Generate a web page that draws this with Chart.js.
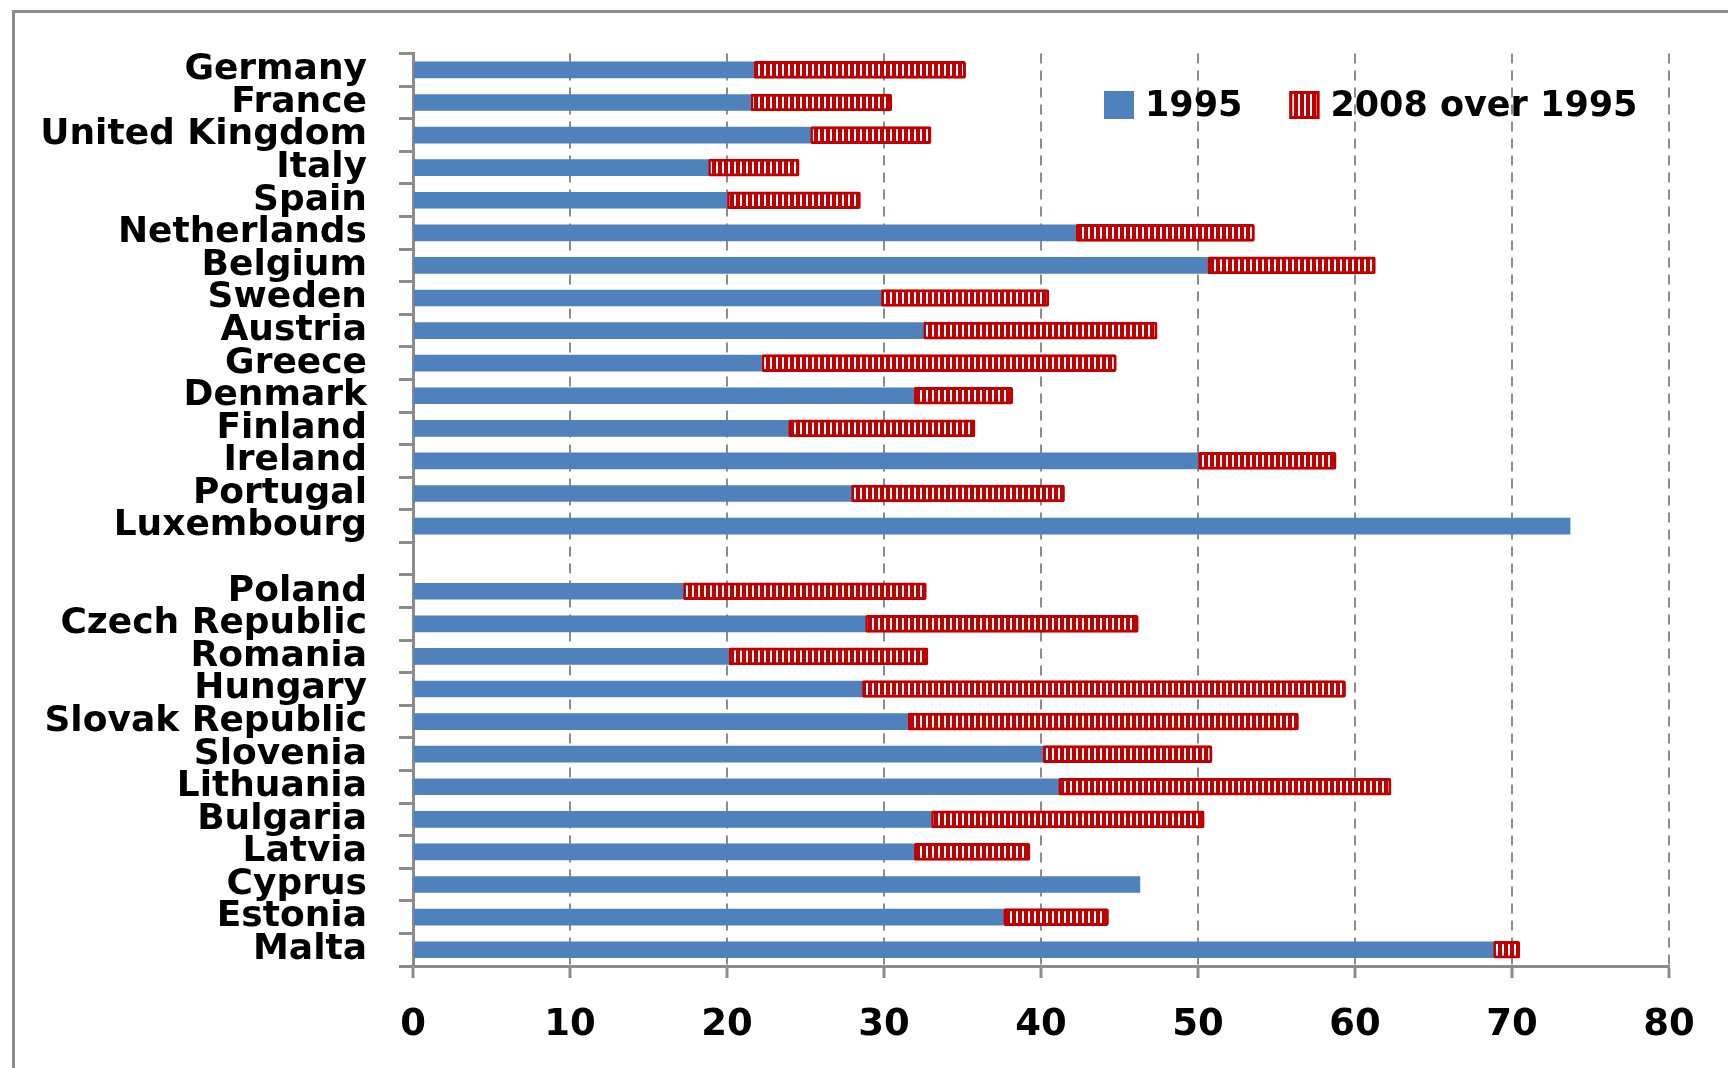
<!DOCTYPE html>
<html>
<head>
<meta charset="utf-8">
<script src="https://cdn.jsdelivr.net/npm/chart.js@4.4.1/dist/chart.umd.min.js"></script>
<style>
    body { margin: 0; background: #fff; overflow: hidden; }
    #frame {
        position: absolute; left: 12px; top: 10px; width: 2000px; height: 2000px;
        border-left: 3px solid #8c8c8c; border-top: 3px solid #8c8c8c;
    }
    #productChart { position: absolute; left: 0; top: 0; }
</style>
</head>
<body>
<div id="frame"></div>
<canvas id="productChart" width="1728" height="1068"></canvas>
<script>
        const countries = ['Germany', 'France', 'United Kingdom', 'Italy', 'Spain', 'Netherlands',
            'Belgium', 'Sweden', 'Austria', 'Greece', 'Denmark', 'Finland', 'Ireland', 'Portugal',
            'Luxembourg', '', 'Poland', 'Czech Republic', 'Romania', 'Hungary', 'Slovak Republic',
            'Slovenia', 'Lithuania', 'Bulgaria', 'Latvia', 'Cyprus', 'Estonia', 'Malta'];
        const share1995 = [21.7, 21.5, 25.3, 18.8, 20.0, 42.2, 50.6, 29.8, 32.5, 22.2, 31.9, 23.9, 50.0, 27.9,
            73.7, null, 17.2, 28.8, 20.1, 28.6, 31.5, 40.1, 41.1, 33.0, 31.9, 46.3, 37.6, 68.8];
        const increase2008 = [13.5, 9.0, 7.7, 5.8, 8.5, 11.4, 10.7, 10.7, 14.9, 22.6, 6.3, 11.9, 8.8, 13.6,
            null, null, 15.5, 17.4, 12.7, 30.8, 24.9, 10.8, 21.2, 17.4, 7.4, null, 6.7, 1.7];
        const seriesNames = ['1995', '2008 over 1995'];
        const xTicks = [0, 10, 20, 30, 40, 50, 60, 70, 80];

        const ctx = document.getElementById('productChart').getContext('2d');
        const gridGrey = '#8c8c8c';
        const labelFont = { family: 'DejaVu Sans', weight: 'bold', size: 36 };

        // vertical red/white stripes for the second series
        const stripeCanvas = document.createElement('canvas');
        stripeCanvas.width = 6;
        stripeCanvas.height = 6;
        const sctx = stripeCanvas.getContext('2d');
        sctx.fillStyle = '#C00000';
        sctx.fillRect(0, 0, 6, 6);
        sctx.fillStyle = '#ffffff';
        sctx.fillRect(2, 0, 2, 6);
        const stripes = ctx.createPattern(stripeCanvas, 'repeat');

        // legend sits inside the plot, top right
        const insideLegend = {
            id: 'insideLegend',
            afterDraw(chart) {
                const c = chart.ctx;
                let x = chart.chartArea.left + 691;
                const y = 91;
                c.save();
                c.font = 'bold 35px "DejaVu Sans"';
                c.textBaseline = 'middle';
                chart.data.datasets.forEach(ds => {
                    c.fillStyle = ds.backgroundColor;
                    c.fillRect(x, y, 30, 28);
                    if (ds.borderWidth) {
                        c.strokeStyle = ds.borderColor;
                        c.lineWidth = 3;
                        c.strokeRect(x + 1.5, y + 1.5, 27, 25);
                    }
                    c.fillStyle = '#000';
                    c.fillText(ds.label, x + 41, y + 16);
                    x += 41 + c.measureText(ds.label).width + 47;
                });
                c.restore();
            }
        };

        const chart = new Chart(ctx, {
            type: 'bar',
            data: {
                labels: countries,
                datasets: [{
                    label: seriesNames[0],
                    data: share1995,
                    backgroundColor: '#4F81BD',
                    borderWidth: 0,
                    barThickness: 16
                }, {
                    label: seriesNames[1],
                    data: increase2008,
                    backgroundColor: stripes,
                    borderColor: '#C00000',
                    borderWidth: 3,
                    borderSkipped: false,
                    borderRadius: 2,
                    barThickness: 17
                }]
            },
            options: {
                indexAxis: 'y',
                responsive: false,
                devicePixelRatio: 1,
                animation: false,
                layout: { padding: { top: 52, right: 59, bottom: 0, left: 0 } },
                plugins: {
                    legend: { display: false },
                    tooltip: { enabled: false }
                },
                scales: {
                    x: {
                        stacked: true,
                        min: 0,
                        max: 80,
                        afterFit: scale => { scale.height = 102; },
                        afterBuildTicks: scale => { scale.ticks = xTicks.map(v => ({ value: v })); },
                        ticks: {
                            color: 'black',
                            font: { family: 'DejaVu Sans', weight: 'bold', size: 37 },
                            padding: 25
                        },
                        grid: {
                            color: c => c.index === 0 ? 'rgba(0,0,0,0)' : gridGrey,
                            lineWidth: 2,
                            tickColor: gridGrey,
                            tickLength: 12,
                            tickWidth: 3,
                            tickBorderDash: []
                        },
                        border: { display: true, color: gridGrey, width: 3, dash: [10, 7] }
                    },
                    y: {
                        stacked: true,
                        offset: true,
                        afterFit: scale => { scale.width = 413; },
                        ticks: {
                            color: 'black',
                            font: labelFont,
                            padding: 32,
                            autoSkip: false
                        },
                        grid: {
                            offset: true,
                            drawOnChartArea: false,
                            color: gridGrey,
                            lineWidth: 3,
                            tickLength: 14
                        },
                        border: { display: true, color: gridGrey, width: 3 }
                    }
                }
            },
            plugins: [insideLegend]
        });
</script>
</body>
</html>
